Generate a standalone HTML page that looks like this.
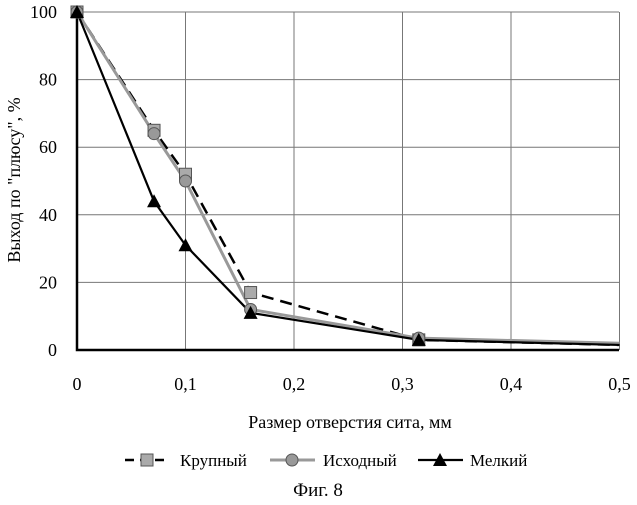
<!DOCTYPE html>
<html><head><meta charset="utf-8"><style>
body{margin:0;background:#fff;width:637px;height:500px;overflow:hidden}
svg text{font-family:"Liberation Serif","DejaVu Serif",serif;fill:#000}
</style></head><body>
<svg id="c" width="637" height="500"></svg>
<script>
const xs=[0,0.071,0.1,0.16,0.315,0.5];
const coarse=[100,65,52,17,3,1.5];
const initial=[100,64,50,12,3.5,2];
const fine=[100,44,31,11,3,1.5];
const xTicks=["0","0,1","0,2","0,3","0,4","0,5"];
const yTicks=[0,20,40,60,80,100];
const NS="http://www.w3.org/2000/svg";
const svg=document.getElementById('c');
const X=v=>77+v*1085, Y=v=>350-v*3.38;
function mk(t,a,p){const e=document.createElementNS(NS,t);for(const k in a)e.setAttribute(k,a[k]);(p||svg).appendChild(e);return e;}
yTicks.forEach(v=>{if(v>0){const l=mk('line',{x1:77,x2:619,y1:Y(v),y2:Y(v),stroke:'#777','stroke-width':1});

}
const t=mk('text',{x:57,y:Y(v)+6,'text-anchor':'end','font-size':18});t.textContent=v;

});
xTicks.forEach((s,i)=>{const v=i*0.1;if(i>0){const l=mk('line',{x1:X(v),x2:X(v),y1:Y(100),y2:Y(0),stroke:'#777','stroke-width':1});

}
const t=mk('text',{x:X(v),y:390,'text-anchor':'middle','font-size':18});t.textContent=s;

});
const ax=mk('path',{d:`M77,${Y(100)}V350H619`,fill:'none',stroke:'#000','stroke-width':2.5});


function pts(a){return xs.map((x,i)=>X(x)+','+Y(a[i])).join(' ');}
const l1=mk('polyline',{points:pts(coarse),fill:'none',stroke:'#000','stroke-width':2.5,'stroke-dasharray':'12,7'});


const l2=mk('polyline',{points:pts(initial),fill:'none',stroke:'#999','stroke-width':3});


const l3=mk('polyline',{points:pts(fine),fill:'none',stroke:'#000','stroke-width':2.2});


function sq(x,y){return mk('rect',{x:x-6,y:y-6,width:12,height:12,fill:'#aaa',stroke:'#555','stroke-width':1});}
function ci(x,y){return mk('circle',{cx:x,cy:y,r:6,fill:'#999',stroke:'#555','stroke-width':1});}
function tr(x,y){return mk('polygon',{points:`${x-7},${y+6} ${x+7},${y+6} ${x},${y-7}`,fill:'#000'});}
xs.forEach((x,i)=>{if(i===5)return;
const a=sq(X(x),Y(coarse[i]));
const b=ci(X(x),Y(initial[i]));
const c=tr(X(x),Y(fine[i]));});
const yt=mk('text',{x:0,y:0,'font-size':18,'text-anchor':'middle',transform:'translate(20,180) rotate(-90)'});
yt.textContent='Выход по "плюсу", %';


const xt=mk('text',{x:350,y:428,'font-size':18,'text-anchor':'middle'});
xt.textContent='Размер отверстия сита, мм';


const lg=mk('g',{});


mk('line',{x1:125,x2:170,y1:460,y2:460,stroke:'#000','stroke-width':2.5,'stroke-dasharray':'9,6'},lg);
mk('rect',{x:141,y:454,width:12,height:12,fill:'#aaa',stroke:'#555'},lg);
let t=mk('text',{x:180,y:466,'font-size':17},lg);t.textContent='Крупный';
mk('line',{x1:270,x2:315,y1:460,y2:460,stroke:'#999','stroke-width':3},lg);
mk('circle',{cx:292,cy:460,r:6,fill:'#999',stroke:'#555'},lg);
t=mk('text',{x:323,y:466,'font-size':17},lg);t.textContent='Исходный';
mk('line',{x1:418,x2:463,y1:460,y2:460,stroke:'#000','stroke-width':2.2},lg);
mk('polygon',{points:'433,466 447,466 440,453',fill:'#000'},lg);
t=mk('text',{x:470,y:466,'font-size':17},lg);t.textContent='Мелкий';
const ft=mk('text',{x:318,y:496,'font-size':19,'text-anchor':'middle'});
ft.textContent='Фиг. 8';


</script>
</body></html>
